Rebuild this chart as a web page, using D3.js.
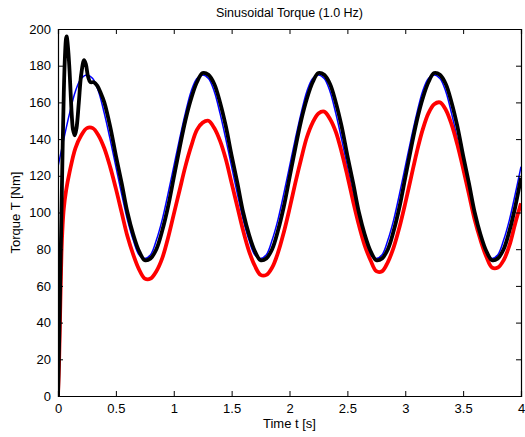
<!DOCTYPE html>
<html>
<head>
<meta charset="utf-8">
<script src="https://d3js.org/d3.v7.min.js"></script>
<style>
  body { margin: 0; background: #fff; }
  text { font-family: "Liberation Sans", Arial, sans-serif; fill: #000; }
</style>
</head>
<body>
<svg id="chart" width="525" height="437"></svg>
<script>
// time grid, 0.05 s steps from 0 to 4 s
var tGrid = d3.range(81).map(function(i) { return +(i * 0.05).toFixed(2); });

// reference torque (blue)
var blueTorque = [125,140,154,166,173,175,173,166,154,140,125,110,96,85,77,75,77,85,96,110,
                  125,140,154,166,173,175,173,166,154,140,125,110,96,85,77,75,77,85,96,110,
                  125,140,154,166,173,175,173,166,154,140,125,110,96,85,77,75,77,85,96,110,
                  125,140,154,166,173,175,173,166,154,140,125,110,96,85,77,75,77,85,96,110,
                  125];

// red series: start-up part then 0.35 .. 4 s
var redStartT = [0,0.01,0.02,0.03,0.04,0.05,0.07,0.1,0.15,0.2,0.25,0.3];
var redStart  = [0,20,50,78,93,102,112,122,135,142,146,146];
var redTorque = [142,135,125,113,100,87,77,69,64,64,
                 68,75,86,99,112,125,136,145,149,150,
                 146,139,129,116,103,90,79,71,66,66,
                 70,78,89,102,116,129,141,149,154,155,
                 151,144,133,120,106,93,82,74,68,68,
                 73,81,92,105,119,133,145,154,159,160,
                 156,148,137,124,110,96,85,76,70,70,
                 74,82,94,105];

// black series: start-up transient then 0.4 .. 4 s
var blackStartT = [0,0.01,0.02,0.03,0.04,0.05,0.06,0.07,0.075,0.08,0.09,0.1,0.11,0.12,0.13,0.145,
                   0.16,0.18,0.2,0.225,0.24,0.26,0.28,0.31,0.34,0.37];
var blackStart  = [0,30,65,100,135,165,185,195,196,194,187,177,164,152,145,142,
                   146,160,175,183,181,174,171,171,169,165];
var blackTorque = [160,147,131,116,100,88,79,74,75,80,90,103,
                   119,135,150,162,171,176,175,170,160,147,131,116,100,88,79,74,75,80,90,103,
                   119,135,150,162,171,176,175,170,160,147,131,116,100,88,79,74,75,80,90,103,
                   119,135,150,162,171,176,175,170,160,147,131,116,100,88,79,74,75,80,90,103,
                   119];

var xTicks = [0,0.5,1,1.5,2,2.5,3,3.5,4];
var yTicks = d3.range(0, 201, 20);

var redPts = redStartT.map(function(t, i) { return [t, redStart[i]]; })
  .concat(redTorque.map(function(v, i) { return [tGrid[i + 7], v]; }));
var blackPts = blackStartT.map(function(t, i) { return [t, blackStart[i]]; })
  .concat(blackTorque.map(function(v, i) { return [tGrid[i + 8], v]; }));
var bluePts = blueTorque.map(function(v, i) { return [tGrid[i], v]; });

var margin = {left: 58, right: 4, top: 29, bottom: 41};
var svg = d3.select('#chart');
var W = 525, H = 437;

var x = d3.scaleLinear().domain([0, 4]).range([margin.left, W - margin.right]);
var y = d3.scaleLinear().domain([0, 200]).range([H - margin.bottom, margin.top]);

svg.append('clipPath').attr('id', 'clip')
  .append('rect')
  .attr('x', margin.left).attr('y', margin.top - 2)
  .attr('width', x(4) - x(0)).attr('height', y(0) - y(200) + 2);

var line = d3.line()
  .x(function(d) { return x(d[0]); })
  .y(function(d) { return y(d[1]); })
  .curve(d3.curveCatmullRom.alpha(0.5));

var plot = svg.append('g').attr('clip-path', 'url(#clip)');

plot.append('path').datum(bluePts)
  .attr('d', line).attr('fill', 'none')
  .attr('stroke', '#0000ff').attr('stroke-width', 1.5);

plot.append('path').datum(redPts)
  .attr('d', line).attr('fill', 'none')
  .attr('stroke', '#ff0000').attr('stroke-width', 3.8)
  .attr('stroke-linejoin', 'round');

plot.append('path').datum(blackPts)
  .attr('d', line).attr('fill', 'none')
  .attr('stroke', '#000').attr('stroke-width', 3.8)
  .attr('stroke-linejoin', 'round');

// axes, ticks inward on all four sides
var tickLen = 5;
var gx = svg.append('g').attr('transform', 'translate(0,' + y(0) + ')')
  .call(d3.axisBottom(x).tickValues(xTicks).tickSize(-tickLen).tickPadding(8)
    .tickFormat(function(d) { return d; }));
var gxTop = svg.append('g').attr('transform', 'translate(0,' + y(200) + ')')
  .call(d3.axisTop(x).tickValues(xTicks).tickSize(-tickLen).tickFormat(''));
var gy = svg.append('g').attr('transform', 'translate(' + x(0) + ',0)')
  .call(d3.axisLeft(y).tickValues(yTicks).tickSize(-tickLen).tickPadding(7));
var gyRight = svg.append('g').attr('transform', 'translate(' + x(4) + ',0)')
  .call(d3.axisRight(y).tickValues(yTicks).tickSize(-tickLen).tickFormat(''));

[gx, gxTop, gy, gyRight].forEach(function(g) {
  g.select('.domain').attr('stroke', '#000').attr('stroke-width', 1.2);
  g.selectAll('.tick line').attr('stroke', '#000');
  g.selectAll('text').style('font-size', '13px')
    .style('font-family', '"Liberation Sans", Arial, sans-serif');
});

svg.append('text')
  .attr('x', (x(0) + x(4)) / 2).attr('y', 17)
  .attr('text-anchor', 'middle').style('font-size', '12.5px')
  .text('Sinusoidal Torque (1.0 Hz)');

svg.append('text')
  .attr('x', (x(0) + x(4)) / 2).attr('y', 428)
  .attr('text-anchor', 'middle').style('font-size', '13px')
  .text('Time t [s]');

svg.append('text')
  .attr('transform', 'translate(20,' + ((y(0) + y(200)) / 2) + ') rotate(-90)')
  .attr('text-anchor', 'middle').style('font-size', '13px')
  .text('Torque T [Nm]');
</script>
</body>
</html>
